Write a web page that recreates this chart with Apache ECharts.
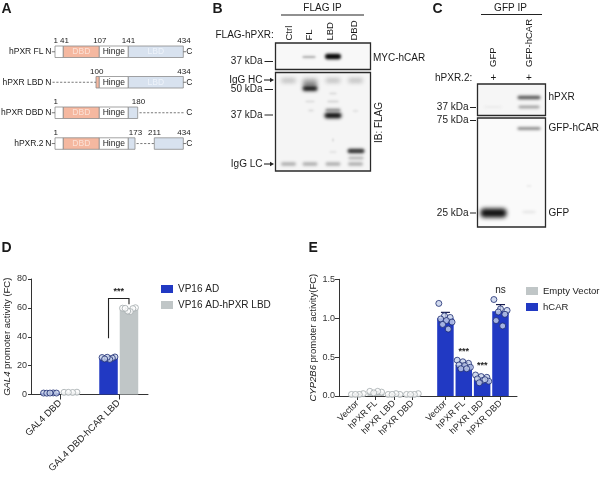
<!DOCTYPE html>
<html><head><meta charset="utf-8">
<script src="https://cdn.jsdelivr.net/npm/echarts@6/dist/echarts.min.js"></script>
<style>html,body{margin:0;padding:0;background:#fff}#c{width:601px;height:478px}</style>
</head><body><div id="c"></div>
<script>
// ---------------- Data ----------------
// Panel D
const dCategories = ['GAL4 DBD', 'GAL4 DBD-hCAR LBD'];
const dSeriesNames = ['VP16 AD', 'VP16 AD-hPXR LBD'];
const dVP16 = [1.0, 25.0];
const dVP16LBD = [1.5, 58.8];
const dVP16Points = [[1.0, 1.1, 0.9, 1.0, 1.0], [25.6, 26.0, 25.2, 24.3, 25.8, 24.6]];
const dVP16LBDPoints = [[1.5, 1.6, 1.4, 1.5], [59.8, 60.1, 59.5, 57.4, 57.8, 59.7]];
const dSig = { label: '***', leftFrom: 39, top: 66.5, rightFrom: 62.5 };
const dTicks = [0, 20, 40, 60, 80];

// Panel E
const eCategories = ['Vector', 'hPXR FL', 'hPXR LBD', 'hPXR DBD'];
const eSeriesNames = ['Empty Vector', 'hCAR'];
const eEmpty = [0.02, 0.05, 0.02, 0.02];
const eEmptySem = [0.004, 0.008, 0.004, 0.004];
const eHCAR = [1.0, 0.40, 0.21, 1.09];
const eHCARSem = [0.075, 0.03, 0.02, 0.085];
const eEmptyPoints = [[0.02, 0.03, 0.02, 0.02], [0.06, 0.05, 0.06, 0.04], [0.02, 0.02, 0.03, 0.02], [0.02, 0.03, 0.02, 0.02]];
const eHCARPoints = [
  [1.19, 1.03, 1.01, 0.99, 0.97, 0.95, 0.92, 0.86],
  [0.46, 0.44, 0.42, 0.40, 0.39, 0.37, 0.35, 0.35],
  [0.27, 0.25, 0.24, 0.22, 0.20, 0.19, 0.17, 0.21],
  [1.24, 1.12, 1.10, 1.08, 1.05, 0.97, 0.90]
];
const eSig = ['', '***', '***', 'ns'];
const eTicks = [0, 0.5, 1.0, 1.5];

// ---------------- Layout helpers ----------------
const FF = '"Liberation Sans", Arial, Helvetica, sans-serif';
const BLUE = '#2139c3', GREY = '#c0c6c7';
const DOT_BLUE = { color: '#c6d1ea', borderColor: '#1c2a70', borderWidth: 1 };
const DOT_GREY = { color: '#fdfdfd', borderColor: '#a3aaac', borderWidth: 1 };

function spread(vals, center, halfWidth) {
  const n = vals.length;
  const m = (n % 3 === 0) ? 5 : 3;
  return vals.map((v, k) => {
    const s = n > 1 ? ((k * m) % n) / (n - 1) - 0.5 : 0;
    return [center + s * 2 * halfWidth, v];
  });
}

// D positions (value axis, one unit per group)
const dOff = 0.175;
const dPos = dCategories.map((_, i) => i);
// E positions: two blocks of four with a gap
const eGap = 0.8;
const ePosEmpty = eCategories.map((_, i) => i);
const ePosHCAR = eCategories.map((_, i) => i + 4 + eGap);
const eLabelMap = {};
ePosEmpty.forEach((p, i) => eLabelMap[Math.round(p * 10)] = eCategories[i]);
ePosHCAR.forEach((p, i) => eLabelMap[Math.round(p * 10)] = eCategories[i]);

// ---------------- Graphic (panels A, B, C) ----------------
const G = [];
function txt(s, x, y, o) {
  o = o || {};
  G.push({ type: 'text', x: x, y: y, rotation: o.rot || 0, z: 20,
    style: { text: s, x: 0, y: 0, fill: o.color || '#1a1a1a', fontSize: o.size || 10,
      fontWeight: o.weight || 'normal', fontFamily: FF, align: o.align || 'left', verticalAlign: o.va || 'middle' } });
}
function rect(x, y, w, h, fill, stroke, lw) {
  G.push({ type: 'rect', z: 5, shape: { x: x, y: y, width: w, height: h },
    style: { fill: fill, stroke: stroke || null, lineWidth: lw || 0.8 } });
}
function line(x1, y1, x2, y2, o) {
  o = o || {};
  G.push({ type: 'line', z: 6, shape: { x1: x1, y1: y1, x2: x2, y2: y2 },
    style: { stroke: o.color || '#222', lineWidth: o.lw || 1, lineDash: o.dash || null } });
}
// soft blot band: shape drawn off-canvas, only its blurred shadow lands in place
function band(cx, cy, w, h, color, blur) {
  const b = blur == null ? 3 : blur;
  G.push({ type: 'rect', z: 7, shape: { x: cx - w / 2 - 1000, y: cy - h / 2, width: w, height: h, r: Math.min(h / 2, 4) },
    style: { fill: color, shadowBlur: b, shadowColor: color, shadowOffsetX: 1000, shadowOffsetY: 0 } });
}
function arrow(x1, x2, y) {
  line(x1, y, x2 - 3, y, { lw: 1.1 });
  G.push({ type: 'polygon', z: 6, shape: { points: [[x2 - 4, y - 2.2], [x2, y], [x2 - 4, y + 2.2]] }, style: { fill: '#222' } });
}

// Panel letters
txt('A', 1.5, 9.5, { size: 14, weight: 'bold' });
txt('B', 212.5, 9.5, { size: 14, weight: 'bold' });
txt('C', 432.5, 9.5, { size: 14, weight: 'bold' });
txt('D', 1.5, 248.5, { size: 14, weight: 'bold' });
txt('E', 308.5, 248.5, { size: 14, weight: 'bold' });

// ---- Panel A: domain schematics ----
const SAL = '#f5b8a0', LBDC = '#d8e2ef', BOX = '#8c8c8c';
const xN = 55, x41 = 63.3, x107 = 99.3, x141 = 128.3, x434 = 183.3;
const rowsA = [
  { name: 'hPXR FL', y: 46 },
  { name: 'hPXR LBD', y: 76.5 },
  { name: 'hPXR DBD', y: 107 },
  { name: 'hPXR.2', y: 137.8 }
];
const H = 11.5;
function nTerm(y) { txt('N', 51.5, y + H / 2, { size: 8.5, align: 'right' }); }
function cTerm(xs, y) { line(xs, y + H / 2, 186, y + H / 2, { color: '#555', lw: 0.8 }); txt('C', 186.3, y + H / 2, { size: 8.5 }); }
function num(s, x, y) { txt(s, x, y - 5, { size: 8, align: 'center' }); }
function dbdText(y) { txt('DBD', (x41 + x107) / 2, y + H / 2, { size: 8.5, align: 'center', color: '#fbe1d6' }); }
function hingeText(y) { txt('Hinge', (x107 + x141) / 2, y + H / 2, { size: 8.5, align: 'center', color: '#222' }); }
function lbdText(y) { txt('LBD', (x141 + x434) / 2, y + H / 2, { size: 8.5, align: 'center', color: '#eef3fa' }); }
rowsA.forEach(r => txt(r.name, 43.5, r.y + H / 2, { size: 8.5, align: 'right' }));
(function () {
  const y = rowsA[0].y;
  nTerm(y); line(51.8, y + H / 2, xN, y + H / 2, { color: '#555', lw: 0.8 });
  rect(xN, y, x41 - xN, H, '#fff', BOX); rect(x41, y, x107 - x41, H, SAL, BOX);
  rect(x107, y, x141 - x107, H, '#fff', BOX); rect(x141, y, x434 - x141, H, LBDC, BOX);
  cTerm(x434, y); dbdText(y); hingeText(y); lbdText(y);
  num('1', 55.8, y); num('41', 64.5, y); num('107', 99.8, y); num('141', 128.5, y); num('434', 184, y);
})();
(function () {
  const y = rowsA[1].y;
  nTerm(y); line(52.5, y + H / 2, 96, y + H / 2, { color: '#555', lw: 0.8, dash: [2.2, 1.6] });
  rect(96, y, x107 - 96, H, SAL, BOX); rect(x107, y, x141 - x107, H, '#fff', BOX); rect(x141, y, x434 - x141, H, LBDC, BOX);
  cTerm(x434, y); hingeText(y); lbdText(y);
  num('100', 96.7, y); num('434', 184, y);
})();
(function () {
  const y = rowsA[2].y;
  nTerm(y); line(51.8, y + H / 2, xN, y + H / 2, { color: '#555', lw: 0.8 });
  rect(xN, y, x41 - xN, H, '#fff', BOX); rect(x41, y, x107 - x41, H, SAL, BOX);
  rect(x107, y, x141 - x107, H, '#fff', BOX); rect(x141, y, 137.7 - x141, H, LBDC, BOX);
  line(139.5, y + H / 2, 185, y + H / 2, { color: '#555', lw: 0.8, dash: [2.2, 1.6] });
  txt('C', 186.3, y + H / 2, { size: 8.5 });
  dbdText(y); hingeText(y);
  num('1', 55.8, y); num('180', 138.5, y);
})();
(function () {
  const y = rowsA[3].y;
  nTerm(y); line(51.8, y + H / 2, xN, y + H / 2, { color: '#555', lw: 0.8 });
  rect(xN, y, x41 - xN, H, '#fff', BOX); rect(x41, y, x107 - x41, H, SAL, BOX);
  rect(x107, y, x141 - x107, H, '#fff', BOX); rect(x141, y, 135 - x141, H, LBDC, BOX);
  line(136.5, y + H / 2, 154, y + H / 2, { color: '#555', lw: 0.8, dash: [2.2, 1.6] });
  rect(154.3, y, x434 - 154.3, H, LBDC, BOX);
  cTerm(x434, y); dbdText(y); hingeText(y);
  num('1', 55.8, y); num('173', 135.5, y); num('211', 154.5, y); num('434', 184, y);
})();

// ---- Panel B: FLAG IP blot ----
txt('FLAG IP', 322.5, 8.5, { align: 'center' });
line(281, 15, 364, 15, { lw: 1.1 });
const bLanes = [{ n: 'Ctrl', x: 288.5 }, { n: 'FL', x: 310 }, { n: 'LBD', x: 333 }, { n: 'DBD', x: 355.5 }];
[['Ctrl', 289.5], ['FL', 309], ['LBD', 330], ['DBD', 354]].forEach(l => txt(l[0], l[1], 40.5, { rot: Math.PI / 2, va: 'middle', align: 'left', size: 9.5 }));
txt('FLAG-hPXR:', 215.5, 35, {});
rect(275.5, 43, 95, 26.5, '#f8f8f8', '#2a2a2a', 1.3);
rect(275.5, 72.5, 95, 98.5, '#f5f5f5', '#2a2a2a', 1.3);
txt('37 kDa', 262.5, 61.5, { align: 'right' }); line(264.5, 61.5, 273, 61.5, { lw: 1 });
txt('MYC-hCAR', 373, 58.5, {});
band(309, 57, 13, 1.6, '#8a8a8a', 2.5);
band(333, 56.5, 16, 5.5, '#050505', 3);
// lower blot
txt('IgG HC', 262.5, 80, { align: 'right' }); arrow(264, 274, 80);
txt('50 kDa', 262.5, 89.5, { align: 'right' }); line(264.5, 89.5, 273, 89.5);
txt('37 kDa', 262.5, 115, { align: 'right' }); line(264.5, 115, 273, 115);
txt('IgG LC', 262.5, 164, { align: 'right' }); arrow(264, 274, 164);
txt('IB: FLAG', 379.5, 122.5, { rot: Math.PI / 2, align: 'center' });
bLanes.forEach(l => band(l.x, 80.5, 15, 4.5, '#bdbdbd', 4));
band(310, 84, 14, 4, '#6e6e6e', 4);
band(310, 88.5, 15, 5, '#151515', 3.5);
band(333, 93.5, 7, 1.5, '#cdcdcd', 2.5);
band(310, 101.5, 9, 1.5, '#d2d2d2', 2.5);
band(333, 101.5, 11, 1.5, '#c6c6c6', 2.5);
band(311, 110.5, 5, 1.5, '#cccccc', 2.5);
band(333, 110, 15, 2.5, '#7c7c7c', 3);
band(333, 115.5, 17, 5.5, '#0c0c0c', 3.5);
band(355.5, 111, 5, 1.5, '#d6d6d6', 2.5);
band(333, 140, 2, 3, '#d8d8d8', 2);
band(333, 152, 7, 1.5, '#dadada', 2.5);
band(356, 151, 17, 4.5, '#333333', 3);
band(356, 158, 15, 2.5, '#ababab', 3);
bLanes.forEach(l => band(l.x, 164, 15, 3.5, '#adadad', 3));

// ---- Panel C: GFP IP blot ----
txt('GFP IP', 510.5, 8.5, { align: 'center' });
line(481, 14.5, 542, 14.5, { lw: 1.1 });
txt('GFP', 493.5, 67, { rot: Math.PI / 2, align: 'left', size: 9.5 });
txt('GFP-hCAR', 529, 67, { rot: Math.PI / 2, align: 'left', size: 9.5 });
txt('hPXR.2:', 435, 78, {});
txt('+', 493.5, 78, { align: 'center' }); txt('+', 529, 78, { align: 'center' });
rect(477.5, 84, 68, 31.5, '#f6f6f6', '#2a2a2a', 1.3);
rect(477.5, 118, 68, 109, '#fafafa', '#2a2a2a', 1.3);
txt('37 kDa', 468.5, 107.5, { align: 'right' }); line(470, 107.5, 476, 107.5);
txt('75 kDa', 468.5, 120.5, { align: 'right' }); line(470, 120.5, 476, 120.5);
txt('25 kDa', 468.5, 213, { align: 'right' }); line(470, 213, 476, 213);
txt('hPXR', 548.5, 97.5, {});
txt('GFP-hCAR', 548.5, 128.5, {});
txt('GFP', 548.5, 213, {});
band(529, 97.5, 23, 3.5, '#555555', 3);
band(529, 107, 21, 2.5, '#959595', 3);
band(493, 107, 18, 1.5, '#e6e6e6', 3);
band(529, 128.5, 23, 2.5, '#777777', 3);
band(493.5, 213, 26, 9, '#121212', 4);
band(529, 212, 13, 2.5, '#e4e4e4', 3);
band(529, 186, 5, 2.5, '#eeeeee', 2);

// ---------------- Chart option ----------------
const axisLineStyle = { color: '#333', width: 1 };
const dBlueDots = [], dGreyDots = [];
dPos.forEach((p, i) => {
  spread(dVP16Points[i], p - dOff, 0.11).forEach(d => dBlueDots.push(d));
  spread(dVP16LBDPoints[i], p + dOff, 0.11).forEach(d => dGreyDots.push(d));
});
const eGreyDots = [], eBlueDots = [];
ePosEmpty.forEach((p, i) => spread(eEmptyPoints[i], p, 0.32).forEach(d => eGreyDots.push(d)));
ePosHCAR.forEach((p, i) => spread(eHCARPoints[i], p, 0.36).forEach(d => eBlueDots.push(d)));

function errRender(color) {
  return function (params, api) {
    const x = api.value(0), m = api.value(1), s = api.value(2);
    const top = api.coord([x, m + s]);
    const base = api.coord([x, m]);
    const hw = 4.5;
    return { type: 'group', children: [
      { type: 'line', shape: { x1: top[0], y1: base[1], x2: top[0], y2: top[1] }, style: { stroke: color, lineWidth: 1.2 } },
      { type: 'line', shape: { x1: top[0] - hw, y1: top[1], x2: top[0] + hw, y2: top[1] }, style: { stroke: color, lineWidth: 1.2 } }
    ] };
  };
}

const option = {
  animation: false,
  backgroundColor: '#fff',
  textStyle: { fontFamily: FF },
  graphic: { elements: G },
  legend: [
    { data: dSeriesNames, left: 156, top: 279, orient: 'vertical', icon: 'rect', itemWidth: 12, itemHeight: 8,
      itemGap: 6, textStyle: { fontSize: 10, color: '#222', fontFamily: FF }, selectedMode: false },
    { data: eSeriesNames, left: 521, top: 281, orient: 'vertical', icon: 'rect', itemWidth: 12, itemHeight: 8,
      itemGap: 6, textStyle: { fontSize: 9.5, color: '#222', fontFamily: FF }, selectedMode: false }
  ],
  grid: [
    { left: 31, top: 279, width: 117, height: 115.5 },
    { left: 339, top: 279.3, width: 178, height: 116.7 }
  ],
  xAxis: [
    { gridIndex: 0, type: 'value', min: -0.5, max: 1.5, splitLine: { show: false },
      axisLine: { show: true, onZero: false, lineStyle: axisLineStyle },
      axisTick: { show: true, customValues: dPos, length: 5, lineStyle: axisLineStyle },
      axisLabel: { customValues: dPos, rotate: 45, margin: 7, fontSize: 9.5, color: '#222', fontFamily: FF,
        formatter: v => dCategories[Math.round(v)] || '' } },
    { gridIndex: 1, type: 'value', min: -1, max: 8.7, splitLine: { show: false },
      axisLine: { show: true, onZero: false, lineStyle: axisLineStyle },
      axisTick: { show: true, customValues: ePosEmpty.concat(ePosHCAR), length: 4, lineStyle: axisLineStyle },
      axisLabel: { customValues: ePosEmpty.concat(ePosHCAR), rotate: 45, margin: 6, fontSize: 9, color: '#222', fontFamily: FF,
        formatter: v => eLabelMap[Math.round(v * 10)] || '' } }
  ],
  yAxis: [
    { gridIndex: 0, type: 'value', min: 0, max: 80, interval: 20, splitLine: { show: false },
      axisLine: { show: true, onZero: false, lineStyle: axisLineStyle },
      axisTick: { show: true, length: 3, lineStyle: axisLineStyle },
      axisLabel: { fontSize: 9, color: '#333', margin: 4, fontFamily: FF },
      name: '{i|GAL4} promoter activity (FC)', nameLocation: 'middle', nameGap: 18.5, nameRotate: 90,
      nameTextStyle: { fontSize: 9.5, color: '#222', fontFamily: FF, rich: { i: { fontStyle: 'italic', fontSize: 9.5, fontFamily: FF } } } },
    { gridIndex: 1, type: 'value', min: 0, max: 1.5, interval: 0.5, splitLine: { show: false },
      axisLine: { show: true, onZero: false, lineStyle: axisLineStyle },
      axisTick: { show: true, length: 4, lineStyle: axisLineStyle },
      axisLabel: { fontSize: 9, color: '#333', margin: 4, fontFamily: FF, formatter: v => v.toFixed(1) },
      name: '{i|CYP2B6} promoter activity(FC)', nameLocation: 'middle', nameGap: 19.5, nameRotate: 90,
      nameTextStyle: { fontSize: 9.5, color: '#222', fontFamily: FF, rich: { i: { fontStyle: 'italic', fontSize: 9.5, fontFamily: FF } } } }
  ],
  series: [
    { name: dSeriesNames[0], type: 'bar', xAxisIndex: 0, yAxisIndex: 0, barWidth: 18.5, barGap: '-100%', z: 2,
      itemStyle: { color: BLUE }, data: dPos.map((p, i) => [p - dOff, dVP16[i]]) },
    { name: dSeriesNames[1], type: 'bar', xAxisIndex: 0, yAxisIndex: 0, barWidth: 18.5, barGap: '-100%', z: 2,
      itemStyle: { color: GREY }, data: dPos.map((p, i) => [p + dOff, dVP16LBD[i]]) },
    { name: 'D-pts-1', type: 'scatter', xAxisIndex: 0, yAxisIndex: 0, symbolSize: 6, z: 5, itemStyle: DOT_BLUE, data: dBlueDots },
    { name: 'D-pts-2', type: 'scatter', xAxisIndex: 0, yAxisIndex: 0, symbolSize: 6, z: 5, itemStyle: DOT_GREY, data: dGreyDots },
    { name: 'D-sig', type: 'custom', xAxisIndex: 0, yAxisIndex: 0, z: 6,
      encode: { x: [0, 2], y: 1 },
      data: [[dPos[1] - dOff, dSig.top, dPos[1] + dOff]],
      renderItem: function (params, api) {
        const xl = api.value(0), xr = api.value(2);
        const p1 = api.coord([xl, dSig.leftFrom]), p2 = api.coord([xl, dSig.top]);
        const p3 = api.coord([xr, dSig.top]), p4 = api.coord([xr, dSig.rightFrom]);
        return { type: 'group', children: [
          { type: 'polyline', shape: { points: [p1, p2, p3, p4] }, style: { stroke: '#222', lineWidth: 1.1, fill: null } },
          { type: 'text', x: (p2[0] + p3[0]) / 2, y: p2[1] - 7,
            style: { text: dSig.label, fill: '#222', fontSize: 9, fontWeight: 'bold', fontFamily: FF, align: 'center', verticalAlign: 'middle' } }
        ] };
      } },
    { name: eSeriesNames[0], type: 'bar', xAxisIndex: 1, yAxisIndex: 1, barWidth: 16.5, barGap: '-100%', z: 2,
      itemStyle: { color: GREY }, data: ePosEmpty.map((p, i) => [p, eEmpty[i]]) },
    { name: eSeriesNames[1], type: 'bar', xAxisIndex: 1, yAxisIndex: 1, barWidth: 16.5, barGap: '-100%', z: 2,
      itemStyle: { color: BLUE }, data: ePosHCAR.map((p, i) => [p, eHCAR[i]]) },
    { name: 'E-err-1', type: 'custom', xAxisIndex: 1, yAxisIndex: 1, z: 3, renderItem: errRender('#7e8788'),
      data: ePosEmpty.map((p, i) => [p, eEmpty[i], eEmptySem[i]]) },
    { name: 'E-err-2', type: 'custom', xAxisIndex: 1, yAxisIndex: 1, z: 3, renderItem: errRender('#141a4d'),
      data: ePosHCAR.map((p, i) => [p, eHCAR[i], eHCARSem[i]]) },
    { name: 'E-pts-1', type: 'scatter', xAxisIndex: 1, yAxisIndex: 1, symbolSize: 6, z: 5, itemStyle: DOT_GREY, data: eGreyDots },
    { name: 'E-pts-2', type: 'scatter', xAxisIndex: 1, yAxisIndex: 1, symbolSize: 6, z: 5, itemStyle: DOT_BLUE, data: eBlueDots },
    { name: 'E-sig', type: 'custom', xAxisIndex: 1, yAxisIndex: 1, z: 6,
      data: ePosHCAR.map((p, i) => [p, Math.max.apply(null, eHCARPoints[i])]),
      renderItem: function (params, api) {
        const label = eSig[params.dataIndex];
        if (!label) return null;
        const c = api.coord([api.value(0), api.value(1)]);
        return { type: 'text', x: c[0], y: c[1] - 9,
          style: { text: label, fill: '#222', fontSize: label === 'ns' ? 10 : 9, fontWeight: label === 'ns' ? 'normal' : 'bold',
            fontFamily: FF, align: 'center', verticalAlign: 'middle' } };
      } }
  ]
};

const chart = echarts.init(document.getElementById('c'), null, { renderer: 'canvas', width: 601, height: 478 });
chart.setOption(option);
</script>
</body></html>
